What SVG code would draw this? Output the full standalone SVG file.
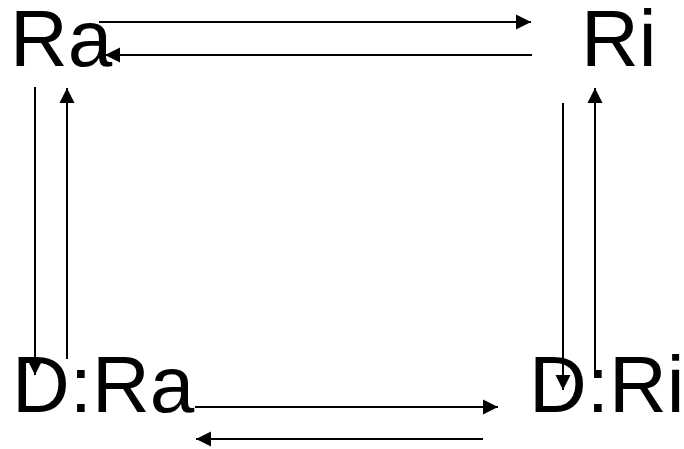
<svg xmlns="http://www.w3.org/2000/svg" width="684" height="449" viewBox="0 0 684 449">
<style>
.lbl{font-family:"Liberation Sans",Arial,sans-serif;font-size:80px;fill:#000}
.c{stroke:#000;stroke-width:2;fill:none;marker-end:url(#ah)}
</style>
<defs>
<marker id="ah" markerUnits="userSpaceOnUse" markerWidth="16" markerHeight="16" viewBox="0 0 16 16" refX="15" refY="8" orient="auto">
<path d="M0,0.5 L15,8 L0,15.5 Z" fill="#000"/>
</marker>
</defs>
<rect width="684" height="449" fill="#fff"/>
<g id="Ra"><text class="lbl" x="10" y="66">Ra</text></g>
<g id="Ri"><text class="lbl" x="581" y="66">Ri</text></g>
<g id="DRa"><text class="lbl" x="12" y="412">D:Ra</text></g>
<g id="DRi"><text class="lbl" x="529" y="412">D:Ri</text></g>
<g id="connectors">
<line class="c" x1="99" y1="22" x2="531" y2="22"/>
<line class="c" x1="532" y1="55" x2="105" y2="55"/>
<line class="c" x1="35" y1="87" x2="35" y2="375"/>
<line class="c" x1="67" y1="359" x2="67" y2="88"/>
<line class="c" x1="563" y1="103" x2="563" y2="390"/>
<line class="c" x1="595" y1="376" x2="595" y2="88"/>
<line class="c" x1="195" y1="407" x2="498" y2="407"/>
<line class="c" x1="483" y1="439" x2="196" y2="439"/>
</g>
</svg>
